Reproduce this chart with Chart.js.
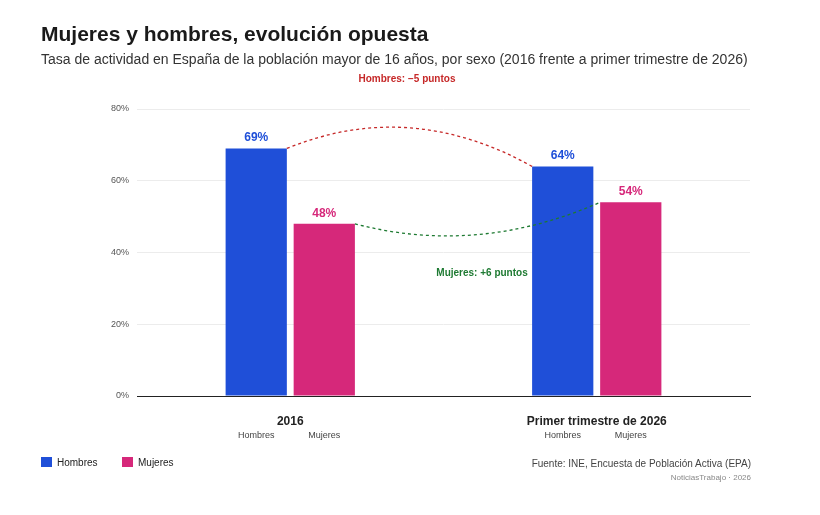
<!DOCTYPE html>
<html>
<head>
<meta charset="utf-8">
<script src="https://cdn.jsdelivr.net/npm/chart.js@4.4.1/dist/chart.umd.min.js"></script>
<style>
  body{margin:0;background:#fff;font-family:"Liberation Sans",Arial,sans-serif;}
  #wrap{position:relative;width:820px;height:515px;}
  #c{position:absolute;left:0;top:0;}
  .t{position:absolute;left:41px;top:22px;font-size:21px;font-weight:bold;color:#1a1a1a;}
  .s{position:absolute;left:41px;top:51px;font-size:14px;color:#333;}
  .leg{position:absolute;top:457px;font-size:10px;color:#222;}
  .leg span{display:inline-block;width:11px;height:10px;vertical-align:-1px;margin-right:5px;}
  .src{position:absolute;right:69px;top:458px;font-size:10px;color:#444;}
  .foot{position:absolute;right:69px;top:473px;font-size:8px;color:#888;}
</style>
</head>
<body>
<div id="wrap">
  <canvas id="c" width="820" height="515"></canvas>
  <div class="t">Mujeres y hombres, evolución opuesta</div>
  <div class="s">Tasa de actividad en España de la población mayor de 16 años, por sexo (2016 frente a primer trimestre de 2026)</div>
  <div class="leg" style="left:41px"><span style="background:#1f4fd8"></span>Hombres</div>
  <div class="leg" style="left:122px"><span style="background:#d6287a"></span>Mujeres</div>
  <div class="src">Fuente: INE, Encuesta de Población Activa (EPA)</div>
  <div class="foot">NoticiasTrabajo · 2026</div>
</div>
<script>
var categorias = ['2016', 'Primer trimestre de 2026'];
var hombres = [69, 64];
var mujeres = [48, 54];
var yTicks = [0, 20, 40, 60, 80];
var azul = '#1f4fd8', rosa = '#d6287a';

// etiquetas, subetiquetas y curvas
var extras = {
  id: 'extras',
  afterDatasetsDraw: function (chart) {
    var ctx = chart.ctx, y = chart.scales.y;
    ctx.save();
    ctx.textAlign = 'center';
    ctx.font = 'bold 12px "Liberation Sans", Arial';
    chart.data.datasets.forEach(function (ds, i) {
      chart.getDatasetMeta(i).data.forEach(function (bar, j) {
        ctx.fillStyle = ds.backgroundColor;
        ctx.fillText(ds.data[j] + '%', bar.x, bar.y - 7);
        ctx.fillStyle = '#444';
        ctx.font = '9px "Liberation Sans", Arial';
        ctx.fillText(ds.label, bar.x, 438);
        ctx.font = 'bold 12px "Liberation Sans", Arial';
      });
    });
    function curva(i, color, bulge) {
      var m = chart.getDatasetMeta(i).data;
      var x1 = m[0].x + m[0].width / 2, y1 = m[0].y;
      var x2 = m[1].x - m[1].width / 2, y2 = m[1].y;
      ctx.beginPath();
      ctx.setLineDash([3, 3]);
      ctx.strokeStyle = color;
      ctx.lineWidth = 1.3;
      ctx.moveTo(x1, y1);
      ctx.quadraticCurveTo((x1 + x2) / 2, y.getPixelForValue(bulge), x2, y2);
      ctx.stroke();
    }
    curva(0, '#c62828', 83);
    curva(1, '#1e7a32', 39);
    ctx.setLineDash([]);
    ctx.font = 'bold 10px "Liberation Sans", Arial';
    ctx.fillStyle = '#c62828';
    ctx.fillText('Hombres: \u22125 puntos', 407, 82);
    ctx.fillStyle = '#1e7a32';
    ctx.fillText('Mujeres: +6 puntos', 482, 276);
    ctx.restore();
  }
};

new Chart(document.getElementById('c'), {
  type: 'bar',
  data: {
    labels: categorias,
    datasets: [
      { label: 'Hombres', data: hombres, backgroundColor: azul },
      { label: 'Mujeres', data: mujeres, backgroundColor: rosa }
    ]
  },
  options: {
    responsive: false,
    animation: false,
    layout: { padding: { top: 109, right: 70, left: 0, bottom: 0 } },
    plugins: { legend: { display: false }, tooltip: { enabled: false } },
    datasets: { bar: { barPercentage: 0.9, categoryPercentage: 0.444 } },
    scales: {
      x: {
        afterFit: function (s) { s.height = 119; },
        grid: { display: false },
        border: { color: '#222', width: 1 },
        ticks: { padding: 10, color: '#222', font: { size: 12, weight: 'bold', family: '"Liberation Sans", Arial' } }
      },
      y: {
        min: 0, max: 80,
        afterFit: function (s) { s.width = 137; },
        afterBuildTicks: function (s) { s.ticks = yTicks.map(function (v) { return { value: v }; }); },
        grid: { color: '#ececec', drawTicks: false },
        border: { display: false },
        ticks: { padding: 8, color: '#555', font: { size: 9, family: '"Liberation Sans", Arial' },
          callback: function (v) { return v + '%'; } }
      }
    }
  },
  plugins: [extras]
});
</script>
</body>
</html>
